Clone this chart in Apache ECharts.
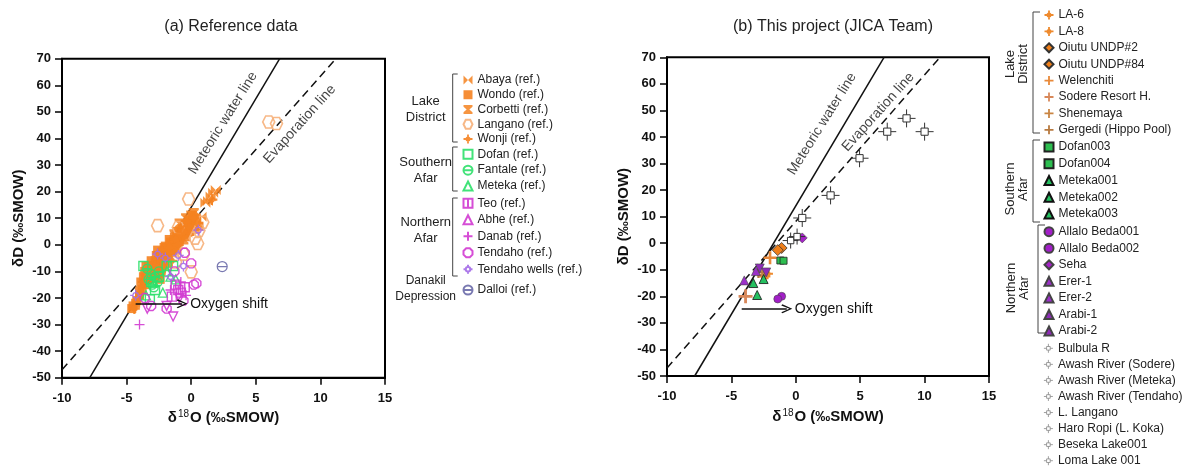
<!DOCTYPE html>
<html>
<head>
<meta charset="utf-8">
<script src="https://cdn.jsdelivr.net/npm/echarts@6/dist/echarts.min.js"></script>
<style>
html,body{margin:0;padding:0;background:#fff;}
#chart{width:1198px;height:466px;}
</style>
</head>
<body>
<div id="chart"></div>
<script>
// ---- axis ticks ----
const xTicks = [-10, -5, 0, 5, 10, 15];
const yTicks = [-50, -40, -30, -20, -10, 0, 10, 20, 30, 40, 50, 60, 70];

// ---- reference lines (δ18O, δD) ----
const meteoricLine = [[-7.85, -50], [6.85, 70]];
const evaporationLine = [[-10, -47], [11.2, 70]];
const oxygenShiftA = [[-4.3, -22.2], [-0.7, -22.2]];
const oxygenShiftB = [[-4.2, -24.7], [-0.7, -24.7]];

// ---- (a) reference data: [δ18O, δD] ----
const abaya = [[1.3, 16.5], [1.5, 18.2], [1.7, 19.6], [1.9, 20.6], [1.1, 15.8], [0.4, 9], [0.8, 10.5], [-0.3, 4.5]];
const wondo = [[-3.2, -10], [-3.0, -8], [-2.8, -6], [-2.6, -9], [-2.4, -7], [-2.2, -5], [-2.0, -3], [-1.8, -4],
  [-2.9, -12], [-3.4, -13], [-2.5, -11], [-1.6, -1], [-1.4, 1], [-1.2, 0], [-2.7, -4], [-3.6, -15], [-3.8, -17],
  [-4.0, -19], [-4.3, -22], [-4.6, -24], [-3.1, -6], [-2.3, -9], [-1.9, -7], [-2.1, -1], [-1.7, 2], [-2.6, -2],
  [-3.3, -8], [-2.8, -10], [-1.5, -3], [-1.0, 1], [-0.8, 3], [-0.6, 6], [-0.3, 8], [0.1, 9], [-2.4, -13],
  [-3.0, -11], [-1.1, -2], [-0.4, 3], [0.3, 7], [-2.2, -8],
  [-4.5, -23], [-4.2, -21], [-4.0, -18], [-3.9, -14], [-3.7, -12], [-3.6, -10], [-3.4, -11], [-3.5, -8],
  [-3.2, -13], [-3.0, -12.5], [-2.9, -9], [-2.7, -11], [-2.6, -7], [-2.4, -5], [-2.3, -3], [-2.1, -6],
  [-2.0, -0.5], [-1.8, -2.5], [-1.6, 1], [-1.4, -2], [-1.3, 3], [-1.1, 5], [-0.9, 2], [-0.7, 6], [-0.5, 4],
  [-0.3, 7], [-0.1, 5], [0.1, 11], [0.4, 10], [0.6, 7]];
const corbetti = [[-1.0, 3], [-0.8, 5], [-0.5, 7], [-0.2, 9], [0.0, 11], [-0.6, 2], [-1.3, 4], [0.3, 6], [-0.9, 8], [-0.4, 10], [0.2, 12]];
const langano = [[6.0, 46.2], [6.6, 45.6], [-0.2, 17.2], [-2.6, 7.2], [0.6, 5.4], [0.0, -10.2], [-1.0, 6.5], [0.3, 2.5],
  [-0.6, -3.5], [0.9, 8.5], [-1.2, -6.5], [0.5, 0.5]];
const wonji = [[-3.5, -12], [-3.0, -9], [-2.6, -5], [-2.2, -2], [-1.8, 0], [-1.2, 2], [-0.6, 5], [-0.2, 7], [0.2, 10],
  [-4.4, -24], [-3.9, -16], [1.6, 17], [-2.4, -11], [-1.5, -6], [-2.9, -7], [-1.9, -2], [-0.9, 4], [0.5, 8],
  [-3.3, -10], [-2.8, -8], [-2.5, -3], [-1.7, -1], [-1.0, 0], [-0.4, 9], [-3.7, -14], [-4.1, -20]];
const dofan = [[-3.7, -8], [-3.1, -14], [-2.8, -17], [-1.9, -8], [-1.4, -8], [-3.2, -20.5], [-2.5, -12]];
const fantale = [[-3.3, -13], [-3.0, -15], [-2.8, -12], [-2.6, -14], [-3.1, -11], [-2.9, -16], [-2.5, -10], [-3.4, -9]];
const meteka = [[-1.6, -12], [-1.2, -13], [-2.2, -18], [-3.5, -19], [-1.9, -10]];
const teo = [[-1.2, -15], [-0.8, -18], [-1.5, -19.5], [-1.0, -17], [-0.5, -16]];
const abhe = [[-1.4, -27], [-1.9, -23], [-0.9, -20], [-3.4, -24]];
const danab = [[-4.0, -30], [-0.8, -14], [-1.6, -17], [-0.4, -19]];
const tendaho = [[0.4, -14.5], [0.0, -7], [-0.5, -3], [-3.6, -20], [-1.9, -24], [0.2, -15], [-1.3, -10], [-0.6, -21], [-3.1, -23]];
const tendahoWells = [[0.55, 5.5], [-4.3, -19], [-2.0, -5], [-2.6, -3.5], [-1.0, -4], [-1.6, -12], [-0.6, -8]];
const dalloi = [[2.4, -8.2]];

// ---- (b) this project: [δ18O, δD] ----
const la6 = [[-2.4, -12.5]];
const la8 = [[-2.2, -11.5]];
const oiutu2 = [[-1.1, -1.8]];
const oiutu84 = [[-1.4, -2.6]];
const welenchiti = [[-2.0, -5.5]];
const sodere = [[-3.9, -20]];
const shenemaya = [[-2.6, -12]];
const gergedi = [[-2.9, -11]];
const dofan003 = [[-1.2, -6.5]];
const dofan004 = [[-0.95, -6.6]];
const meteka001 = [[-3.0, -19.5]];
const meteka002 = [[-3.3, -15]];
const meteka003 = [[-2.5, -13.5]];
const allalo001 = [[-1.1, -20]];
const allalo002 = [[-1.4, -21]];
const seha = [[0.5, 2]];
const erer1 = [[-4.0, -14]];
const erer2 = [[-3.1, -10.5]];
const arabi1 = [[-2.8, -9.5]];
const arabi2 = [[-2.3, -11]];
const bulbula = [[-0.4, 1]];
const awashSodere = [[0.1, 2.5]];
const awashMeteka = [[0.5, 9.5]];
const awashTendaho = [[2.7, 18]];
const lLangano = [[4.95, 32]];
const haroRopi = [[7.1, 42]];
const beseka = [[8.6, 47]];
const loma = [[10, 42]];

const FONT = '"Liberation Sans", Arial, Helvetica, sans-serif';

// marker shapes
const P = {
  bowtie: 'path://M0,0 L5,5 L0,10 Z M10,0 L5,5 L10,10 Z',
  hourglass: 'path://M0,0 L10,0 L10,2 L6.5,5 L10,8 L10,10 L0,10 L0,8 L3.5,5 L0,2 Z',
  hexagon: 'path://M2.5,0 L7.5,0 L10,5 L7.5,10 L2.5,10 L0,5 Z',
  plusCircle: 'path://M4,0 L6,0 L6,4 L10,4 L10,6 L6,6 L6,10 L4,10 L4,6 L0,6 L0,4 L4,4 Z M2.2,5 A2.8,2.8 0 1 1 7.8,5 A2.8,2.8 0 1 1 2.2,5 Z',
  circleLine: 'path://M0,5 A5,5 0 1 1 10,5 A5,5 0 1 1 0,5 Z M0,5 L10,5',
  squareBar: 'path://M0,0 L10,0 L10,10 L0,10 Z M5,0 L5,10',
  plus: 'path://M5,0 L5,10 M0,5 L10,5',
  octagon: 'path://M3,0 L7,0 L10,3 L10,7 L7,10 L3,10 L0,7 L0,3 Z',
  spokeCircle: 'path://M5,0 L5,2.5 M5,7.5 L5,10 M0,5 L2.5,5 M7.5,5 L10,5 M2.5,5 A2.5,2.5 0 1 1 7.5,5 A2.5,2.5 0 1 1 2.5,5 Z',
  whiteStar: 'path://M3,3 L7,3 L7,7 L3,7 Z M5,0 L5,3 M5,7 L5,10 M0,5 L3,5 M7,5 L10,5',
  thickPlus: 'path://M4,0 L6,0 L6,4 L10,4 L10,6 L6,6 L6,10 L4,10 L4,6 L0,6 L0,4 L4,4 Z',
  chevronUp: 'path://M5,0 L10,9 L8.8,10 L5,2.6 L1.2,10 L0,9 Z'
};

const ORANGE = '#F58220';
const LIGHT_ORANGE = '#F6B07A';
const GREEN = '#2EE06A';
const MAGENTA = '#D23BD2';
const VIOLET = '#A46BE8';
const SLATE = '#6A6AA8';

const filled = (c, op) => ({ color: c, opacity: op == null ? 0.85 : op });
const hollow = (c, w) => ({ color: 'rgba(255,255,255,0)', borderColor: c, borderWidth: w || 1.3, opacity: 0.9 });
const edged = (c, b, w) => ({ color: c, borderColor: b || '#222', borderWidth: w == null ? 0.8 : w, opacity: 1 });

const series = [];
function scatter(gi, name, data, symbol, size, itemStyle, extra) {
  series.push(Object.assign({
    type: 'scatter', name, data, symbol, symbolSize: size, itemStyle,
    xAxisIndex: gi, yAxisIndex: gi, z: 3, emphasis: { disabled: true }
  }, extra || {}));
}

// panel (a)
scatter(0, 'Abaya (ref.)', abaya, P.bowtie, 10, filled(ORANGE));
scatter(0, 'Wondo (ref.)', wondo, 'rect', 9, filled(ORANGE, 0.9));
scatter(0, 'Corbetti (ref.)', corbetti, P.hourglass, 10, filled(ORANGE));
scatter(0, 'Langano (ref.)', langano, P.hexagon, 12, hollow(LIGHT_ORANGE, 1.6));
scatter(0, 'Wonji (ref.)', wonji, P.plusCircle, 11, filled(ORANGE, 0.9));
scatter(0, 'Dofan (ref.)', dofan, 'rect', 9, hollow(GREEN, 1.4));
scatter(0, 'Fantale (ref.)', fantale, P.circleLine, 9, hollow(GREEN, 1.4));
scatter(0, 'Meteka (ref.)', meteka, 'triangle', 9, hollow(GREEN, 1.3));
scatter(0, 'Teo (ref.)', teo, P.squareBar, 9, hollow(MAGENTA, 1.4));
scatter(0, 'Abhe (ref.)', abhe, 'triangle', 9, hollow(MAGENTA, 1.4), { symbolRotate: 180 });
scatter(0, 'Danab (ref.)', danab, P.plus, 10, hollow(MAGENTA, 1.3));
scatter(0, 'Tendaho (ref.)', tendaho, P.octagon, 9, hollow(MAGENTA, 1.4));
scatter(0, 'Tendaho wells (ref.)', tendahoWells, P.spokeCircle, 11, hollow(VIOLET, 1.3));
scatter(0, 'Dalloi (ref.)', dalloi, P.circleLine, 10, hollow(SLATE, 1.2));

// panel (b)
scatter(1, 'LA-6', la6, P.plusCircle, 11, filled('#EE8A2E', 1));
scatter(1, 'LA-8', la8, P.plusCircle, 11, filled('#EE8A2E', 1));
scatter(1, 'Oiutu UNDP#2', oiutu2, 'diamond', 11, edged('#EF7F1A', '#333'));
scatter(1, 'Oiutu UNDP#84', oiutu84, 'diamond', 11, edged('#EF7F1A', '#333'));
scatter(1, 'Welenchiti', welenchiti, P.thickPlus, 13, filled('#E8893A', 1));
scatter(1, 'Sodere Resort H.', sodere, P.thickPlus, 14, filled('#D8885A', 1));
scatter(1, 'Shenemaya', shenemaya, P.thickPlus, 11, filled('#C98543', 1));
scatter(1, 'Gergedi (Hippo Pool)', gergedi, P.thickPlus, 11, filled('#B87A40', 1));
scatter(1, 'Dofan003', dofan003, 'rect', 7, edged('#2DBE50'));
scatter(1, 'Dofan004', dofan004, 'rect', 7, edged('#2DBE50'));
scatter(1, 'Meteka001', meteka001, 'triangle', 9, edged('#25C060', '#111'));
scatter(1, 'Meteka002', meteka002, 'triangle', 9, edged('#25C060', '#111'));
scatter(1, 'Meteka003', meteka003, 'triangle', 9, edged('#25C060', '#111'));
scatter(1, 'Allalo Beda001', allalo001, 'circle', 8, edged('#A21EC8', '#444', 0.6));
scatter(1, 'Allalo Beda002', allalo002, 'circle', 8, edged('#A21EC8', '#444', 0.6));
scatter(1, 'Seha', seha, 'diamond', 10, edged('#A523C8', '#444', 0.6));
scatter(1, 'Erer-1', erer1, 'triangle', 9, edged('#9A30C8', '#444', 0.6));
scatter(1, 'Erer-2', erer2, 'triangle', 9, edged('#9A30C8', '#444', 0.6));
scatter(1, 'Arabi-1', arabi1, 'triangle', 9, edged('#8E2CB8', '#444', 0.6), { symbolRotate: 180 });
scatter(1, 'Arabi-2', arabi2, 'triangle', 9, edged('#8E2CB8', '#444', 0.6), { symbolRotate: 180 });
const riverStyle = edged('#fff', '#333', 1);
scatter(1, 'Bulbula R', bulbula, P.whiteStar, 16, riverStyle);
scatter(1, 'Awash River (Sodere)', awashSodere, P.whiteStar, 16, riverStyle);
scatter(1, 'Awash River (Meteka)', awashMeteka, P.whiteStar, 18, riverStyle);
scatter(1, 'Awash River (Tendaho)', awashTendaho, P.whiteStar, 18, riverStyle);
scatter(1, 'L. Langano', lLangano, P.whiteStar, 18, riverStyle);
scatter(1, 'Haro Ropi (L. Koka)', haroRopi, P.whiteStar, 18, riverStyle);
scatter(1, 'Beseka Lake001', beseka, P.whiteStar, 18, riverStyle);
scatter(1, 'Loma Lake 001', loma, P.whiteStar, 18, riverStyle);

// reference lines, line labels and the oxygen-shift arrow for each panel
function guides(gi, mwlAt, evapAt, shift) {
  series.push({
    type: 'line', name: 'mwl' + gi, data: meteoricLine, xAxisIndex: gi, yAxisIndex: gi,
    showSymbol: false, silent: true, z: 2, lineStyle: { color: '#111', width: 1.5 }
  });
  series.push({
    type: 'line', name: 'evap' + gi, data: evaporationLine, xAxisIndex: gi, yAxisIndex: gi,
    showSymbol: false, silent: true, z: 2, lineStyle: { color: '#111', width: 1.5, type: [8, 5] }
  });
  const lbl = (at, text, rot) => ({
    type: 'scatter', name: text + gi, data: [at], xAxisIndex: gi, yAxisIndex: gi,
    symbolSize: 0, silent: true, z: 4,
    label: { show: true, position: 'inside', rotate: rot, formatter: text, fontSize: 14, color: '#111', fontFamily: FONT }
  });
  series.push(lbl(mwlAt, 'Meteoric water line', 58));
  series.push(lbl(evapAt, 'Evaporation line', 48));
  series.push({
    type: 'line', name: 'shift' + gi, data: [], xAxisIndex: gi, yAxisIndex: gi, z: 5,
    markLine: {
      silent: true, symbol: ['none', P.chevronUp], symbolSize: [9, 11],
      lineStyle: { color: '#111', width: 1.5, type: 'solid' },
      label: { show: true, position: 'end', formatter: 'Oxygen shift', fontSize: 14, color: '#111', fontFamily: FONT, distance: 8 },
      data: [[{ coord: shift[0] }, { coord: shift[1] }]]
    }
  });
}
guides(0, [2.46, 45.8], [8.4, 45.4], oxygenShiftA);
guides(1, [2.04, 44.9], [6.4, 49.4], oxygenShiftB);

function xAxis(gi) {
  return {
    type: 'value', gridIndex: gi,
    min: xTicks[0], max: xTicks[xTicks.length - 1], interval: xTicks[1] - xTicks[0],
    axisLine: { show: true, onZero: false, lineStyle: { color: '#000', width: 2 } },
    axisTick: { show: true, length: 7, lineStyle: { color: '#000', width: 1.5 } },
    axisLabel: { fontSize: 13, fontWeight: 'bold', color: '#111', margin: 14, fontFamily: FONT },
    splitLine: { show: false },
    name: '{a|δ}{s|18}{a|O (‰SMOW)}', nameLocation: 'middle', nameGap: 29,
    nameTextStyle: {
      rich: {
        a: { fontSize: 15, fontWeight: 'bold', color: '#111', fontFamily: FONT },
        s: { fontSize: 10, color: '#111', fontFamily: FONT, padding: [0, 1, 7, 1] }
      }
    }
  };
}
function yAxis(gi) {
  return {
    type: 'value', gridIndex: gi,
    min: yTicks[0], max: yTicks[yTicks.length - 1], interval: yTicks[1] - yTicks[0],
    axisLine: { show: true, onZero: false, lineStyle: { color: '#000', width: 2 } },
    axisTick: { show: true, length: 7, lineStyle: { color: '#000', width: 1.5 } },
    axisLabel: { fontSize: 13, fontWeight: 'bold', color: '#111', margin: 11, fontFamily: FONT },
    splitLine: { show: false },
    name: 'δD (‰SMOW)', nameLocation: 'middle', nameGap: 36,
    nameTextStyle: { fontSize: 15, fontWeight: 'bold', color: '#111', fontFamily: FONT }
  };
}

function legend(names, left, top, gap, iconStyle) {
  return {
    data: iconStyle ? names.map(n => ({ name: n, itemStyle: iconStyle })) : names,
    orient: 'vertical', left, top, height: 200, itemGap: gap, padding: 0,
    itemWidth: 9, itemHeight: 9, selectedMode: false,
    textStyle: { fontSize: 12, color: '#222', fontFamily: FONT }
  };
}

function bracket(x, y1, y2, w) {
  return {
    type: 'polyline', silent: true,
    shape: { points: [[x + w, y1], [x, y1], [x, y2], [x + w, y2]] },
    style: { stroke: '#444', lineWidth: 1, fill: null }
  };
}
function groupText(text, x, y, size, rot) {
  return {
    type: 'text', silent: true, x, y, rotation: rot || 0,
    style: { text, fontSize: size, fill: '#222', fontFamily: FONT, align: 'center', verticalAlign: 'middle', lineHeight: rot ? 13 : 16 }
  };
}

const option = {
  backgroundColor: '#fff',
  animation: false,
  title: [
    { text: '(a) Reference data', left: 226, top: 14, textAlign: 'center',
      textStyle: { fontSize: 16, fontWeight: 'normal', color: '#222', fontFamily: FONT } },
    { text: '(b) This project (JICA Team)', left: 828, top: 14, textAlign: 'center',
      textStyle: { fontSize: 16, fontWeight: 'normal', color: '#222', fontFamily: FONT } }
  ],
  grid: [
    { left: 62, top: 58.7, width: 323, height: 319, show: true, borderColor: '#000', borderWidth: 2, containLabel: false },
    { left: 667, top: 57.3, width: 322, height: 318.7, show: true, borderColor: '#000', borderWidth: 2, containLabel: false }
  ],
  xAxis: [xAxis(0), xAxis(1)],
  yAxis: [yAxis(0), yAxis(1)],
  legend: [
    legend(['Abaya (ref.)', 'Wondo (ref.)', 'Corbetti (ref.)', 'Langano (ref.)', 'Wonji (ref.)'], 462.5, 74, 2.75),
    legend(['Dofan (ref.)', 'Fantale (ref.)', 'Meteka (ref.)'], 462.5, 148.3, 3.85),
    legend(['Teo (ref.)', 'Abhe (ref.)', 'Danab (ref.)', 'Tendaho (ref.)', 'Tendaho wells (ref.)'], 462.5, 197.3, 4.5),
    legend(['Dalloi (ref.)'], 462.5, 284, 4),
    legend(['LA-6', 'LA-8', 'Oiutu UNDP#2', 'Oiutu UNDP#84', 'Welenchiti', 'Sodere Resort H.', 'Shenemaya', 'Gergedi (Hippo Pool)'], 1043.5, 9, 4.4),
    legend(['Dofan003', 'Dofan004', 'Meteka001', 'Meteka002', 'Meteka003'], 1043.5, 141, 4.75),
    legend(['Allalo Beda001', 'Allalo Beda002', 'Seha', 'Erer-1', 'Erer-2', 'Arabi-1', 'Arabi-2'], 1043.5, 225.7, 4.55),
    legend(['Bulbula R', 'Awash River (Sodere)', 'Awash River (Meteka)', 'Awash River (Tendaho)', 'L. Langano',
      'Haro Ropi (L. Koka)', 'Beseka Lake001', 'Loma Lake 001'], 1043.5, 342.3, 4.06,
      { color: '#fff', borderColor: '#888', borderWidth: 0.8 })
  ],
  graphic: [
    bracket(452.7, 74, 142, 5), bracket(452.7, 147, 191, 5), bracket(452.7, 198, 276, 5),
    groupText('Lake\nDistrict', 425.7, 109, 13), groupText('Southern\nAfar', 425.7, 170, 13),
    groupText('Northern\nAfar', 425.7, 230, 13), groupText('Danakil\nDepression', 425.7, 289, 12),
    bracket(1033, 12, 133, 7), bracket(1033, 140, 222, 7), bracket(1038, 225, 333, 7),
    groupText('Lake\nDistrict', 1016.5, 64, 13, Math.PI / 2),
    groupText('Southern\nAfar', 1016.5, 189, 13, Math.PI / 2),
    groupText('Northern\nAfar', 1017.5, 288, 13, Math.PI / 2)
  ],
  series
};

const chart = echarts.init(document.getElementById('chart'), null, { renderer: 'canvas' });
chart.setOption(option);
</script>
</body>
</html>
